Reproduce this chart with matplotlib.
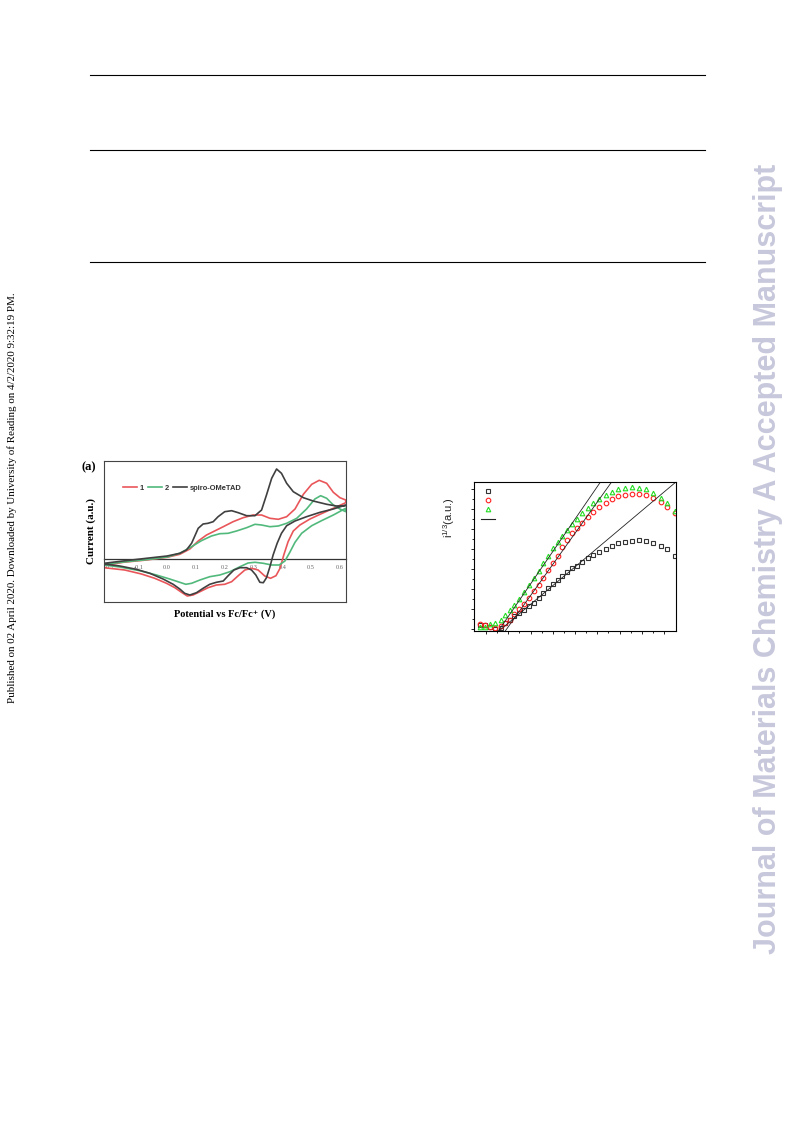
import matplotlib
matplotlib.use("Agg")
import matplotlib.pyplot as plt
from matplotlib.lines import Line2D

W, H = 793, 1121

# ---- (a) cyclic voltammetry, potential vs Fc/Fc+ (V), current (a.u.)
cv1_E = [-0.219, -0.153, -0.072, 0.0, 0.044, 0.079, 0.108, 0.137, 0.160, 0.195, 0.229, 0.264,
         0.299, 0.328, 0.357, 0.386, 0.415, 0.444, 0.473, 0.502, 0.528, 0.554, 0.577, 0.600, 0.620,
         0.620, 0.577, 0.531, 0.496, 0.461, 0.438, 0.420, 0.405, 0.392, 0.378, 0.359, 0.339, 0.316,
         0.293, 0.270, 0.247, 0.224, 0.200, 0.171, 0.142, 0.114, 0.090, 0.070, 0.050, 0.027, -0.002,
         -0.043, -0.089, -0.147, -0.219]
cv1_I = [-0.67, -0.33, -0.10, 0.17, 0.47, 1.00, 1.80, 2.40, 2.73, 3.23, 3.73, 4.13,
         4.40, 4.40, 4.07, 3.97, 4.23, 5.00, 6.47, 7.47, 7.87, 7.57, 6.67, 6.13, 5.90,
         5.63, 5.07, 4.47, 4.00, 3.40, 2.80, 1.73, 0.40, -0.93, -1.67, -1.93, -1.70, -1.10,
         -0.93, -1.10, -1.67, -2.27, -2.53, -2.60, -2.87, -3.27, -3.60, -3.70, -3.33, -2.87, -2.43,
         -1.93, -1.50, -1.10, -0.87]

cv2_E = [-0.219, -0.141, -0.072, 0.0, 0.044, 0.085, 0.119, 0.154, 0.183, 0.212, 0.241, 0.276,
         0.305, 0.328, 0.357, 0.386, 0.415, 0.450, 0.484, 0.513, 0.533, 0.554, 0.577, 0.600, 0.620,
         0.620, 0.577, 0.536, 0.502, 0.467, 0.444, 0.426, 0.409, 0.389, 0.363, 0.334, 0.305, 0.281,
         0.253, 0.218, 0.183, 0.148, 0.114, 0.085, 0.065, 0.044, 0.009, -0.037, -0.095, -0.164, -0.219]
cv2_I = [-0.53, -0.27, -0.07, 0.20, 0.57, 1.23, 1.83, 2.30, 2.53, 2.57, 2.80, 3.13,
         3.47, 3.40, 3.23, 3.30, 3.57, 4.07, 5.00, 6.00, 6.33, 6.07, 5.40, 5.00, 4.73,
         5.07, 4.40, 3.83, 3.33, 2.57, 1.67, 0.67, -0.20, -0.60, -0.60, -0.43, -0.33, -0.40,
         -0.77, -1.27, -1.60, -1.77, -2.10, -2.43, -2.53, -2.33, -2.00, -1.60, -1.17, -0.80, -0.60]

spiro_E = [-0.219, -0.153, -0.072, 0.0, 0.044, 0.067, 0.085, 0.108, 0.125, 0.142, 0.160, 0.177,
           0.200, 0.224, 0.247, 0.276, 0.305, 0.328, 0.345, 0.363, 0.380, 0.397, 0.415, 0.438,
           0.473, 0.507, 0.554, 0.588, 0.620,
           0.620, 0.577, 0.531, 0.484, 0.444, 0.415, 0.397, 0.382, 0.368, 0.357, 0.345, 0.334,
           0.322, 0.308, 0.293, 0.276, 0.253, 0.232, 0.212, 0.195, 0.171, 0.148, 0.125, 0.102,
           0.079, 0.061, 0.044, 0.021, -0.014, -0.060, -0.107, -0.164, -0.219]
spiro_I = [-0.43, -0.20, 0.07, 0.30, 0.57, 0.90, 1.57, 3.07, 3.50, 3.57, 3.73, 4.23,
           4.73, 4.83, 4.63, 4.33, 4.33, 4.90, 6.40, 8.07, 9.00, 8.57, 7.57, 6.73,
           6.13, 5.80, 5.47, 5.30, 5.33,
           5.40, 5.00, 4.67, 4.23, 3.80, 3.33, 2.57, 1.57, 0.40, -0.77, -1.87, -2.37,
           -2.33, -1.60, -1.10, -0.87, -0.87, -1.10, -1.67, -2.20, -2.33, -2.53, -2.93, -3.37,
           -3.60, -3.43, -3.00, -2.53, -2.00, -1.43, -1.03, -0.70, -0.50]

cv_ticks = [-0.2, -0.1, 0.0, 0.1, 0.2, 0.3, 0.4, 0.5, 0.6]
cv_names = ["1", "2", "spiro-OMeTAD"]

# ---- (b) i^(1/3) vs photon energy
pys_E = [4.746, 4.791, 4.836, 4.885, 4.932, 4.971, 5.016, 5.056, 5.096, 5.141, 5.186, 5.231,
         5.272, 5.315, 5.357, 5.405, 5.447, 5.487, 5.530, 5.573, 5.618, 5.663, 5.714, 5.764,
         5.818, 5.875, 5.929, 5.989, 6.049, 6.109, 6.175, 6.238, 6.303, 6.370, 6.429, 6.498]
pys_spiro = [0.225, 0.225, 0.10, 0.025, 0.065, 0.285, 0.45, 0.665, 0.80, 0.95, 1.15, 1.315,
             1.535, 1.785, 2.035, 2.25, 2.45, 2.65, 2.865, 3.065, 3.175, 3.375, 3.535, 3.70,
             3.865, 4.00, 4.165, 4.285, 4.365, 4.40, 4.435, 4.40, 4.315, 4.165, 3.985, 3.65]
pys_1 = [0.235, 0.225, 0.10, 0.035, 0.15, 0.30, 0.45, 0.75, 0.985, 1.25, 1.535, 1.90,
         2.20, 2.565, 2.95, 3.315, 3.665, 4.085, 4.45, 4.785, 5.035, 5.315, 5.615, 5.865,
         6.085, 6.285, 6.485, 6.65, 6.715, 6.75, 6.735, 6.70, 6.535, 6.35, 6.115, 5.785]
pys_2 = [0.115, 0.115, 0.25, 0.325, 0.475, 0.70, 0.95, 1.20, 1.525, 1.85, 2.20, 2.55,
         2.925, 3.30, 3.65, 4.05, 4.375, 4.675, 4.975, 5.25, 5.525, 5.815, 6.05, 6.315,
         6.525, 6.70, 6.85, 7.00, 7.075, 7.10, 7.075, 6.985, 6.80, 6.575, 6.30, 5.915]
# linear fits: onset energy and slope
fit_onset = [4.937, 4.986, 4.923]
fit_slope = [4.69, 7.81, 8.13]


def frac_box(x0, y0, x1, y1):
    return [x0 / W, 1 - y1 / H, (x1 - x0) / W, (y1 - y0) / H]


fig = plt.figure(figsize=(W / 100, H / 100), dpi=100)

# page rules
for yy in [75, 150, 262]:
    fig.add_artist(Line2D([90 / W, 705 / W], [1 - yy / H, 1 - yy / H], color="black", lw=0.8))

fig.text(12 / W, 1 - 498 / H,
         "Published on 02 April 2020. Downloaded by University of Reading on 4/2/2020 9:32:19 PM.",
         rotation=90, ha="center", va="center", fontsize=7.9, family="Liberation Serif")
fig.text(768 / W, 1 - 559 / H, "Journal of Materials Chemistry A Accepted Manuscript",
         rotation=90, ha="center", va="center", fontsize=22, weight="bold",
         color="#c8c8dc", family="Liberation Sans")

# ---------------- left: CV
serif = ["Liberation Serif", "DejaVu Serif"]
ax = fig.add_axes(frac_box(104, 461, 346, 602))
c_red, c_green, c_black = "#e9565a", "#52b97c", "#404040"
l1, = ax.plot(cv1_E, cv1_I, color=c_red, lw=1.2, solid_joinstyle="round")
l2, = ax.plot(cv2_E, cv2_I, color=c_green, lw=1.2, solid_joinstyle="round")
l3, = ax.plot(spiro_E, spiro_I, color=c_black, lw=1.2, solid_joinstyle="round")
ax.set_xlim(-0.219, 0.621)
ax.set_ylim(-4.3, 9.8)
ax.set_xticks([])
ax.set_yticks([])
for s in ax.spines.values():
    s.set_color("#444444")
    s.set_linewidth(0.8)

y0 = (0 - ax.get_ylim()[0]) / (ax.get_ylim()[1] - ax.get_ylim()[0])
sec = ax.secondary_xaxis(y0)
sec.set_xticks(cv_ticks)
sec.set_xticklabels([f"{t:.1f}" for t in cv_ticks], fontsize=4.5, family=serif, color="#666666")
sec.tick_params(length=0, pad=4.5)
sec.spines["bottom"].set_color("#333333")
sec.spines["bottom"].set_linewidth(0.9)

ax.legend([l1, l2, l3], cv_names, ncol=3, frameon=False, loc="center left",
          bbox_to_anchor=(0.079, 0.806), borderpad=0, borderaxespad=0,
          handlelength=1.9, handletextpad=0.3, columnspacing=0.55,
          prop={"family": "Liberation Sans", "weight": "bold", "size": 5.4},
          labelcolor="#333333")

fig.text(82 / W, 1 - 467 / H, "(a)", ha="left", va="center", fontsize=9,
         weight="bold", family=serif)
ax.set_ylabel("Current (a.u.)", fontsize=8, weight="bold", family=serif, labelpad=6)
ax.set_xlabel("Potential vs Fc/Fc\u207a (V)", fontsize=7.5, weight="bold", family=serif,
              labelpad=5)

# ---------------- right: PYS
bx = fig.add_axes(frac_box(474.3, 481.7, 676, 631))
ms = 3.3
h0, = bx.plot(pys_E, pys_spiro, ls="none", marker="s", ms=ms, mfc="none", mec="#333333", mew=0.8)
h1, = bx.plot(pys_E, pys_1, ls="none", marker="o", ms=ms, mfc="none", mec="#ff2020", mew=0.8)
h2, = bx.plot(pys_E, pys_2, ls="none", marker="^", ms=ms, mfc="none", mec="#22dd22", mew=0.8)
for e0, k in zip(fit_onset, fit_slope):
    ys = [-0.1, 8.0]
    bx.plot([e0 + y / k for y in ys], ys, color="#222222", lw=0.6)
hl = Line2D([], [], color="#222222", lw=0.8)

bx.set_xlim(4.695, 6.507)
bx.set_ylim(-0.1, 7.375)
bx.set_xticks([4.8 + 0.2 * i for i in range(9)])
bx.set_xticks([4.9 + 0.2 * i for i in range(8)], minor=True)
bx.set_yticks(range(8))
bx.set_yticks([0.5 + i for i in range(7)], minor=True)
bx.tick_params(which="both", direction="out", labelleft=False, labelbottom=False,
               width=0.6, top=False, right=False)
bx.tick_params(which="major", length=2.2)
bx.tick_params(which="minor", length=1.4)
for s in bx.spines.values():
    s.set_linewidth(0.8)

bx.legend([h0, h1, h2, hl], ["", "", "", ""], frameon=False, loc="upper left",
          bbox_to_anchor=(0.032, 0.958), borderpad=0, borderaxespad=0,
          handlelength=2.1, handletextpad=0, labelspacing=0.5, fontsize=5)

fig.text(449 / W, 1 - 517.5 / H, r"i$^{\mathregular{1/3}}$(a.u.)", rotation=90,
         ha="center", va="center", fontsize=8, family="Liberation Sans", color="#222222")

fig.savefig("out.png", dpi=100)
